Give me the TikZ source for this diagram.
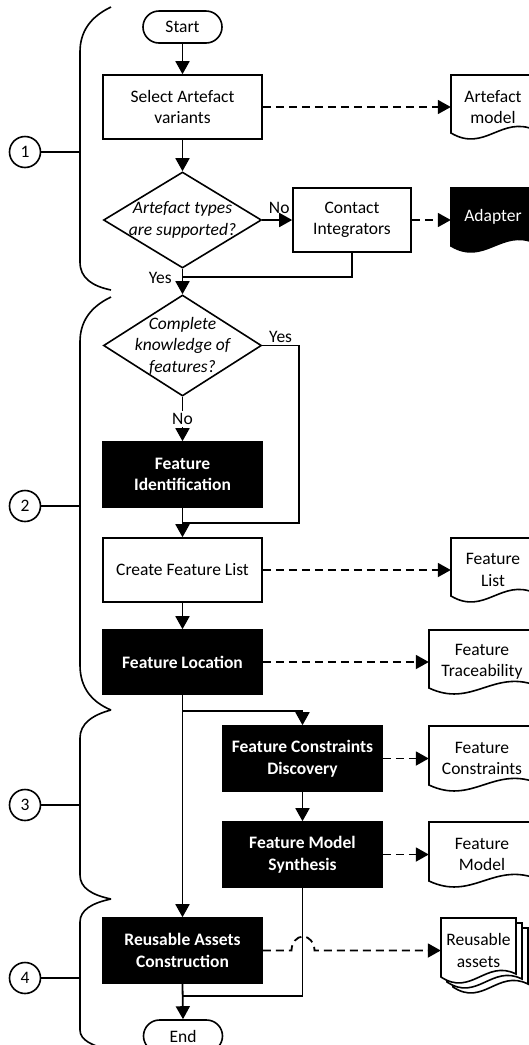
\documentclass[tikz,border=0pt]{standalone}
\usepackage{fontspec}
\setmainfont{Carlito}
\usetikzlibrary{arrows.meta,shapes.geometric,calc}
\newcommand\fsz{\fontsize{17.5}{21.5}\selectfont}
\newcommand\docpath[4]{(#1,#2) -- (#3,#2) -- (#3,#4-9) .. controls ({#1+0.6*(#3-#1)},#4-24) and ({#1+0.4*(#3-#1)},#4+14) .. (#1,#4-6) -- cycle}
\tikzset{
  proc/.style={draw, line width=1.6pt, fill=white, minimum width=159pt, minimum height=64pt, inner sep=0pt, align=center, font=\fsz},
  blk/.style={proc, fill=black, text=white, font=\fsz\bfseries},
  term/.style={draw, line width=1.6pt, fill=white, rounded corners=16pt, minimum width=79pt, minimum height=32pt, inner sep=0pt, font=\fsz},
  dec/.style={draw, diamond, line width=1.6pt, minimum width=158pt, inner sep=0pt},
  dectext/.style={font=\fsz\itshape, align=center},
  docshape/.style={line width=1.6pt},
  docnode/.style={inner sep=0pt, align=center, font=\fsz},
  flow/.style={line width=1.8pt, -{Triangle[length=13pt,width=14pt]}},
  dflow/.style={flow, dash pattern=on 8pt off 5pt},
  conn/.style={line width=1.8pt},
  brace/.style={line width=1.6pt},
  lbl/.style={font=\fsz, inner sep=2pt},
  num/.style={circle, draw, line width=1.6pt, minimum size=31pt, inner sep=0pt, font=\fsz},
}
\begin{document}
\begin{tikzpicture}[x=1pt,y=-1pt]
\useasboundingbox (0,0) rectangle (529,1045);
\clip (0,0) rectangle (529,1045);
\fill[white] (0,0) rectangle (529,1045);

% braces and step numbers
\draw[brace] (111,7) .. controls (90,17) and (80,32) .. (80,52) -- (80,262) .. controls (80,278) and (92,286) .. (111,290);
\draw[brace] (111,297) .. controls (90,307) and (80,322) .. (80,342) -- (80,665) .. controls (80,688) and (92,702) .. (111,710);
\draw[brace] (111,710) .. controls (92,715) and (80,724) .. (80,738) -- (80,875) .. controls (80,888) and (92,895) .. (111,899);
\draw[brace] (111,899) .. controls (92,903) and (80,910) .. (80,922) -- (80,1030) .. controls (80,1040) and (92,1046) .. (111,1050);
\node[num] (c1) at (25,152) {1};
\node[num] (c2) at (25,506) {2};
\node[num] (c3) at (25,805) {3};
\node[num] (c4) at (25,978) {4};
\coordinate (b1) at (80,152);
\coordinate (b2) at (80,506);
\coordinate (b3) at (80,805);
\coordinate (b4) at (80,978);
\draw[brace] (c1) -- (b1);
\draw[brace] (c2) -- (b2);
\draw[brace] (c3) -- (b3);
\draw[brace] (c4) -- (b4);

% main nodes
\node[term] (start) at (182.5,27) {Start};
\node[proc] (select) at (182.5,107) {Select Artefact\\variants};
\node[dec, minimum height=96pt, label={[dectext]center:Artefact types\\are supported?}] (d1) at (182.5,220) {};
\node[proc, minimum width=118pt] (contact) at (352,220) {Contact\\Integrators};
\node[dec, minimum height=101pt, label={[dectext]center:Complete\\knowledge of\\features?}] (d2) at (182.5,345.5) {};
\node[blk, minimum height=65pt] (fi) at (182.5,474.5) {Feature\\Identification};
\node[proc] (cfl) at (182.5,570) {Create Feature List};
\node[blk] (floc) at (182.5,662) {Feature Location};
\node[blk, minimum height=65pt] (fcd) at (302.5,758.5) {Feature Constraints\\Discovery};
\node[blk, minimum height=65pt] (fms) at (302.5,854.5) {Feature Model\\Synthesis};
\node[blk, minimum height=65pt] (rac) at (182.5,950.5) {Reusable Assets\\Construction};
\node[term] (end) at (183,1036) {End};

% documents
\filldraw[docshape, fill=white] \docpath{451}{75}{535}{139};
\node[docnode, minimum width=84pt, minimum height=64pt] (am) at (493,107) {Artefact\\model};
\filldraw[docshape, fill=black] \docpath{451}{188}{535}{252};
\node[docnode, minimum width=84pt, minimum height=64pt, text=white, text depth=10pt] (adapter) at (493,220) {Adapter};
\filldraw[docshape, fill=white] \docpath{451}{538}{535}{602};
\node[docnode, minimum width=84pt, minimum height=64pt] (fl) at (493,570) {Feature\\List};
\filldraw[docshape, fill=white] \docpath{429}{630}{535}{694};
\node[docnode, minimum width=106pt, minimum height=64pt] (ft) at (482,662) {Feature\\Traceability};
\filldraw[docshape, fill=white] \docpath{429}{726}{535}{791};
\node[docnode, minimum width=106pt, minimum height=65pt] (fc) at (482,758.5) {Feature\\Constraints};
\filldraw[docshape, fill=white] \docpath{429}{822}{535}{887};
\node[docnode, minimum width=106pt, minimum height=65pt] (fm) at (482,854.5) {Feature\\Model};
\filldraw[docshape, fill=white] \docpath{453}{928}{528}{993};
\filldraw[docshape, fill=white] \docpath{447}{923}{522}{988};
\filldraw[docshape, fill=white] \docpath{441}{918}{516}{983};
\node[docnode, minimum width=75pt, minimum height=65pt] (ra) at (478.5,950.5) {Reusable\\assets};

% junction points
\coordinate (j1) at (182.5,277);
\coordinate (k2) at (299,345.5);
\coordinate (j2) at (182.5,523);
\coordinate (j3) at (182.5,711);
\coordinate (j4) at (182.5,996);
\coordinate (jmp) at (291.5,950.5);

% connectors
\draw[flow] (start) -- (select);
\draw[flow] (select) -- (d1.north);
\draw[dflow] (select.east) -- (am.west);
\draw[flow] (d1.east) -- node[lbl, above=3pt, xshift=2pt] {No} (contact.west);
\draw[dflow] (contact.east) -- (adapter.west);
\draw[conn] (contact.south) |- (j1);
\draw[flow] (d1.south) -- node[lbl, pos=0.37, left=8pt] {Yes} (d2.north);
\draw[conn] (d2.east) -- node[lbl, above] {Yes} (k2) |- (j2);
\draw[flow] (d2.south) -- node[lbl, fill=white] {No} (fi.north);
\draw[flow] (fi.south) -- (cfl.north);
\draw[dflow] (cfl.east) -- (fl.west);
\draw[flow] (cfl.south) -- (floc.north);
\draw[dflow] (floc.east) -- (ft.west);
\draw[flow] (floc.south) -- (rac.north);
\draw[flow] (j3) -| (fcd.north);
\draw[dflow] (fcd.east) -- (fc.west);
\draw[flow] (fcd.south) -- (fms.north);
\draw[dflow] (fms.east) -- (fm.west);
\draw[conn] (fms.south) |- (j4);
\draw[dflow] (rac.east) -- (jmp) arc[start angle=180, end angle=0, x radius=11.5pt, y radius=14pt] -- (ra.west);
\draw[flow] (rac.south) -- (end.north);
\end{tikzpicture}
\end{document}
